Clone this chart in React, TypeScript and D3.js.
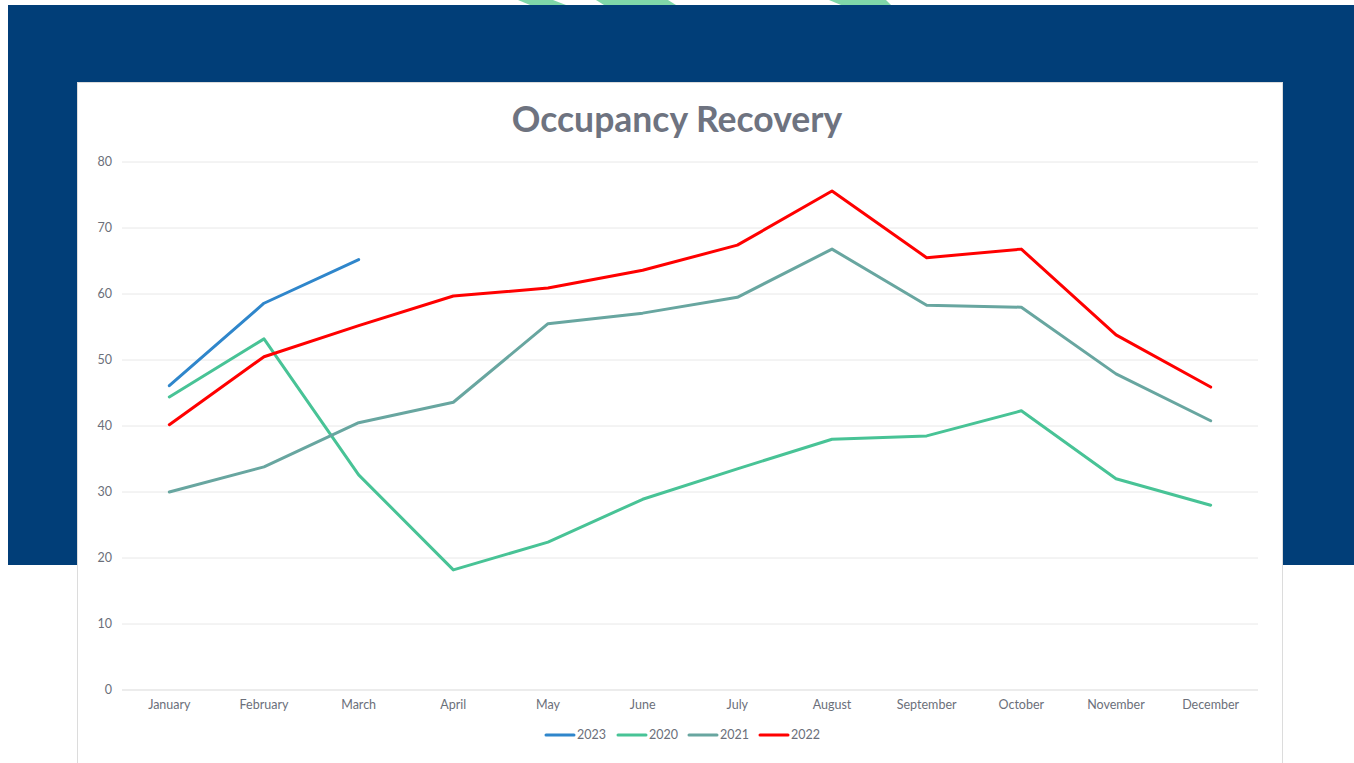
import React from "react";
import * as d3 from "d3";

// chart values
const months = [
  "January", "February", "March", "April", "May", "June",
  "July", "August", "September", "October", "November", "December"
];
const y2023 = [46.1, 58.6, 65.2];
const y2020 = [44.4, 53.2, 32.6, 18.2, 22.4, 28.9, 33.5, 38.0, 38.5, 42.3, 32.0, 28.0];
const y2021 = [30.0, 33.8, 40.5, 43.6, 55.5, 57.1, 59.5, 66.8, 58.3, 58.0, 47.9, 40.8];
const y2022 = [40.2, 50.5, 55.2, 59.7, 60.9, 63.6, 67.4, 75.6, 65.5, 66.8, 53.8, 45.9];
const yTicks = [0, 10, 20, 30, 40, 50, 60, 70, 80];

const series = [
  { name: "2023", values: y2023, color: "#2f86cb" },
  { name: "2020", values: y2020, color: "#48c396" },
  { name: "2021", values: y2021, color: "#68a6a0" },
  { name: "2022", values: y2022, color: "#ff0000" }
];

const W = 1354;
const H = 763;
const plot = { left: 122, right: 1258, top: 162, bottom: 690 };
const font = "Lato, 'DejaVu Sans', sans-serif";

const App = () => {
  const x = d3
    .scaleBand()
    .domain(months)
    .range([plot.left, plot.right]);
  const y = d3
    .scaleLinear()
    .domain([0, 80])
    .range([plot.bottom, plot.top]);

  const lineGen = d3
    .line<number>()
    .x((d, i) => (x(months[i]) as number) + x.bandwidth() / 2)
    .y(d => y(d));

  // legend layout
  const legendY = 735;
  const legendX = [546, 618, 689, 760];

  return (
    <svg
      width={W}
      height={H}
      style={{ position: "absolute", left: 0, top: 0, background: "#fff" }}
    >
      {/* blue banner */}
      <rect x={8} y={5} width={W - 8} height={560} fill="#013e78" />
      {/* green stripes peeking at the top */}
      <polygon points="518,0 553,0 566,5 530,5" fill="#80d8a9" />
      <polygon points="596,0 668,0 676,5 604,5" fill="#80d8a9" />
      <polygon points="829,0 886,0 891,5 841,5" fill="#80d8a9" />

      {/* card */}
      <rect x={77} y={82} width={1206} height={H} fill="#dcdcdc" />
      <rect x={78} y={83} width={1204} height={H} fill="#ffffff" />

      <text
        x={677}
        y={132}
        textAnchor="middle"
        fontFamily={font}
        fontWeight={700}
        fontSize={35.5}
        fill="#6e7380"
      >
        Occupancy Recovery
      </text>

      {/* grid + y labels */}
      {yTicks.map(t => (
        <g key={t}>
          <line
            x1={plot.left}
            x2={plot.right}
            y1={y(t)}
            y2={y(t)}
            stroke={t === 0 ? "#d9d9d9" : "#e8e8e8"}
            strokeWidth={1}
          />
          <text
            x={112}
            y={y(t) + 4}
            textAnchor="end"
            fontFamily={font}
            fontSize={12.5}
            fill="#6b6f7a"
          >
            {t}
          </text>
        </g>
      ))}

      {/* x labels */}
      {months.map(m => (
        <text
          key={m}
          x={(x(m) as number) + x.bandwidth() / 2}
          y={709}
          textAnchor="middle"
          fontFamily={font}
          fontSize={12.5}
          fill="#6b6f7a"
        >
          {m}
        </text>
      ))}

      {/* lines */}
      {series.map(s => (
        <path
          key={s.name}
          d={lineGen(s.values) || ""}
          fill="none"
          stroke={s.color}
          strokeWidth={3}
          strokeLinejoin="round"
          strokeLinecap="round"
        />
      ))}

      {/* legend */}
      {series.map((s, i) => (
        <g key={s.name} transform={`translate(${legendX[i]},${legendY})`}>
          <line x1={0} x2={28} y1={0} y2={0} stroke={s.color} strokeWidth={3} strokeLinecap="round" />
          <text x={31} y={4} fontFamily={font} fontSize={12.5} fill="#6b6f7a">
            {s.name}
          </text>
        </g>
      ))}
    </svg>
  );
};

export default App;
